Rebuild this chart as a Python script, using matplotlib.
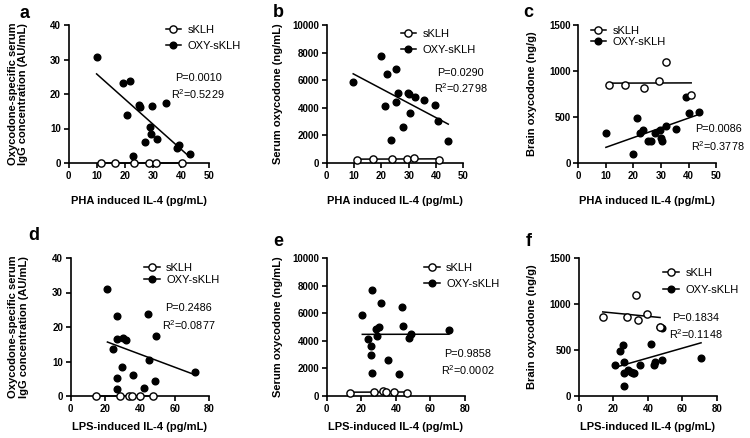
import numpy as np
import matplotlib
matplotlib.use("Agg")
import matplotlib.pyplot as plt
from matplotlib.lines import Line2D

plt.rcParams['font.family'] = ['Liberation Sans', 'DejaVu Sans']
plt.rcParams['mathtext.fontset'] = 'custom'
plt.rcParams['mathtext.rm'] = 'Liberation Sans'

# ---- data ----
# a: PHA IL-4 vs oxycodone-specific IgG
pha_skl_x_a = [11.4, 16.7, 23.2, 28.8, 31.3, 40.4]
igg_skl_a = [0, 0, 0, 0, 0, 0]
pha_oxy_x_a = [10.0, 19.5, 21.9, 20.9, 25.1, 25.3, 29.6, 34.7, 28.9, 29.2, 31.4, 27.3, 22.8, 38.6, 39.3, 43.2]
igg_oxy_a = [30.8, 23.1, 23.8, 13.8, 16.8, 16.1, 16.5, 17.4, 10.5, 8.3, 7.1, 6.0, 2.1, 4.3, 5.1, 2.5]

# b: PHA IL-4 vs serum oxycodone
pha_skl_x_b = [11.2, 16.8, 23.8, 29.3, 32.0, 41.1]
serum_skl_b = [250, 290, 300, 280, 370, 250]
pha_oxy_x_b = [9.7, 19.9, 22.2, 25.4, 21.2, 25.3, 26.0, 23.4, 28.0, 29.7, 30.0, 30.5, 32.3, 35.6, 39.5, 40.7, 44.5]
serum_oxy_b = [5870, 7730, 6420, 6790, 4120, 4390, 5070, 1670, 2590, 5070, 4970, 3640, 4780, 4530, 4190, 3030, 1580]

# c: PHA IL-4 vs brain oxycodone
pha_skl_x_c = [11.1, 17.0, 23.9, 29.3, 31.7, 40.9]
brain_skl_c = [843, 843, 817, 886, 1093, 734]
pha_oxy_x_c = [10.0, 20.0, 21.2, 22.4, 23.4, 25.4, 26.3, 27.8, 29.7, 30.0, 30.3, 31.8, 35.4, 39.2, 40.1, 43.9]
brain_oxy_c = [327, 102, 490, 327, 356, 240, 240, 327, 363, 272, 236, 400, 374, 719, 545, 559]

# d: LPS IL-4 vs oxycodone-specific IgG
lps_skl_x_d = [14.6, 28.5, 33.5, 35.4, 40.0, 47.7]
igg_skl_d = [0, 0, 0, 0, 0, 0]
lps_oxy_x_d = [21.2, 26.9, 26.5, 30.4, 31.9, 24.6, 44.4, 49.4, 45.2, 29.8, 36.2, 26.5, 42.5, 48.7, 26.5, 71.7]
igg_oxy_d = [30.9, 23.1, 16.6, 16.9, 16.3, 13.7, 23.9, 17.5, 10.4, 8.4, 6.0, 5.2, 2.4, 4.3, 1.9, 7.1]

# e: LPS IL-4 vs serum oxycodone
lps_skl_x_e = [13.5, 27.4, 32.8, 34.3, 39.1, 46.6]
serum_skl_e = [240, 290, 360, 290, 290, 240]
lps_oxy_x_e = [20.6, 26.4, 31.2, 43.5, 28.7, 30.4, 44.3, 48.6, 47.8, 29.3, 23.7, 25.4, 25.4, 35.3, 26.0, 41.8, 70.7]
serum_oxy_e = [5850, 7700, 6760, 6420, 4880, 5000, 5050, 4520, 4200, 4350, 4110, 3600, 3000, 2590, 1640, 1570, 4760]

# f: LPS IL-4 vs brain oxycodone
lps_skl_x_f = [13.8, 27.7, 33.1, 34.5, 39.3, 47.1]
brain_skl_f = [854, 854, 1100, 828, 890, 752]
lps_oxy_x_f = [20.9, 23.8, 25.4, 26.2, 26.2, 26.2, 28.7, 30.0, 31.2, 32.0, 35.5, 41.9, 43.8, 44.2, 48.4, 47.1, 48.3, 70.9]
brain_oxy_f = [341, 490, 552, 370, 251, 105, 283, 265, 247, 251, 341, 567, 341, 374, 389, 748, 734, 414]

stats_p = ["P=0.0010", "P=0.0290", "P=0.0086", "P=0.2486", "P=0.9858", "P=0.1834"]
stats_r2 = ["0.5229", "0.2798", "0.3778", "0.0877", "0.0002", "0.1148"]
letters = ["a", "b", "c", "d", "e", "f"]
pha_label = "PHA induced IL-4 (pg/mL)"
lps_label = "LPS-induced IL-4 (pg/mL)"
igg_label = "Oxycodone-specific serum\nIgG concentration (AU/mL)"
serum_label = "Serum oxycodone (ng/mL)"
brain_label = "Brain oxycodone (ng/g)"

W, H = 750, 438
fig = plt.figure(figsize=(7.5, 4.38), dpi=100)


def px_axes(left, top, right, bottom):
    return fig.add_axes([left / W, 1 - bottom / H, (right - left) / W, (bottom - top) / H])


def fit_line(ax, x, y):
    coef = np.polyfit(x, y, 1)
    xx = np.array([min(x), max(x)])
    ax.plot(xx, np.polyval(coef, xx), color='black', lw=1.1, zorder=2, clip_on=False)


def draw(ax, xs, ys, xo, yo, xmax, xstep, ymax, ystep, xlabel, ylabel):
    fit_line(ax, xs, ys)
    fit_line(ax, xo, yo)
    ax.plot(xs, ys, 'o', ms=5.2, mfc='white', mec='black', mew=1.0, ls='none', zorder=4, clip_on=False)
    ax.plot(xo, yo, 'o', ms=4.8, color='black', ls='none', zorder=3, clip_on=False)
    ax.set_xlim(0, xmax)
    ax.set_ylim(0, ymax)
    ax.set_xticks(np.arange(0, xmax + 1, xstep))
    ax.set_yticks(np.arange(0, ymax + 1, ystep))
    for s in ['top', 'right']:
        ax.spines[s].set_visible(False)
    for s in ['left', 'bottom']:
        ax.spines[s].set_linewidth(1.2)
    ax.tick_params(direction='out', length=3.5, width=1.2, labelsize=7, pad=2)
    for lbl in ax.get_xticklabels() + ax.get_yticklabels():
        lbl.set_fontweight('bold')
    ax.set_xlabel(xlabel, fontsize=8, fontweight='bold')
    ax.set_ylabel(ylabel, fontsize=8, fontweight='bold', linespacing=1.1)


handles = [
    Line2D([], [], color='black', lw=1.1, marker='o', ms=5.2, mfc='white', mec='black', mew=1.0),
    Line2D([], [], color='black', lw=1.1, marker='o', ms=4.8, mfc='black', mec='black'),
]

# axes boxes in pixels: left, top, right, bottom
boxes = [(68.5, 25, 209, 163), (326.7, 25, 463.3, 163), (578.3, 25, 716.3, 163),
         (70.7, 258, 209.3, 396), (326.7, 258, 465, 396), (579, 258, 716.7, 396)]
axs = [px_axes(*b) for b in boxes]

draw(axs[0], pha_skl_x_a, igg_skl_a, pha_oxy_x_a, igg_oxy_a, 50, 10, 40, 10, pha_label, igg_label)
draw(axs[1], pha_skl_x_b, serum_skl_b, pha_oxy_x_b, serum_oxy_b, 50, 10, 10000, 2000, pha_label, serum_label)
draw(axs[2], pha_skl_x_c, brain_skl_c, pha_oxy_x_c, brain_oxy_c, 50, 10, 1500, 500, pha_label, brain_label)
draw(axs[3], lps_skl_x_d, igg_skl_d, lps_oxy_x_d, igg_oxy_d, 80, 20, 40, 10, lps_label, igg_label)
draw(axs[4], lps_skl_x_e, serum_skl_e, lps_oxy_x_e, serum_oxy_e, 80, 20, 10000, 2000, lps_label, serum_label)
draw(axs[5], lps_skl_x_f, brain_skl_f, lps_oxy_x_f, brain_oxy_f, 80, 20, 1500, 500, lps_label, brain_label)

ylabel_x = [-0.286, -0.32, -0.30, -0.304, -0.316, -0.305]
xlabel_y = [-0.24, -0.24, -0.24, -0.19, -0.19, -0.19]
for ax, lx, ly in zip(axs, ylabel_x, xlabel_y):
    ax.yaxis.set_label_coords(lx, 0.5)
    ax.xaxis.set_label_coords(0.5, ly)

# legends: anchor (px), label spacing
leg_pos = [(165.7, 25), (400.7, 29), (590.7, 26), (144, 263), (424, 263), (663.3, 268)]
leg_space = [0.55, 0.55, 0.05, 0.2, 0.5, 0.6]
for ax, (lx, ly), sp in zip(axs, leg_pos, leg_space):
    ax.legend(handles, ["sKLH", "OXY-sKLH"], loc='upper left', bbox_to_anchor=(lx / W, 1 - ly / H),
              bbox_transform=fig.transFigure, frameon=False, fontsize=8, borderpad=0,
              borderaxespad=0, handlelength=1.4, handletextpad=0.6, labelspacing=sp)

# P and R2 text (center positions in px)
stat_pos = [(198, 78, 94), (460.7, 72.7, 88.3), (718.3, 129.3, 145.7),
            (188.3, 308.3, 325), (467.3, 354, 369.7), (696, 318, 334)]
for (sx, py, ry), p, r in zip(stat_pos, stats_p, stats_r2):
    fig.text(sx / W, 1 - py / H, p, fontsize=7.8, ha='center', va='center')
    fig.text(sx / W, 1 - ry / H, r'R$^2$=' + r, fontsize=7.8, ha='center', va='center')

letter_pos = [(24, 13), (278.3, 12.7), (528.3, 12.7), (33.3, 236), (278.3, 241.5), (529, 241.5)]
for (lx, ly), t in zip(letter_pos, letters):
    fig.text(lx / W, 1 - ly / H, t, fontsize=13, fontweight='bold', ha='center', va='center')

fig.savefig("out.png", dpi=100)
